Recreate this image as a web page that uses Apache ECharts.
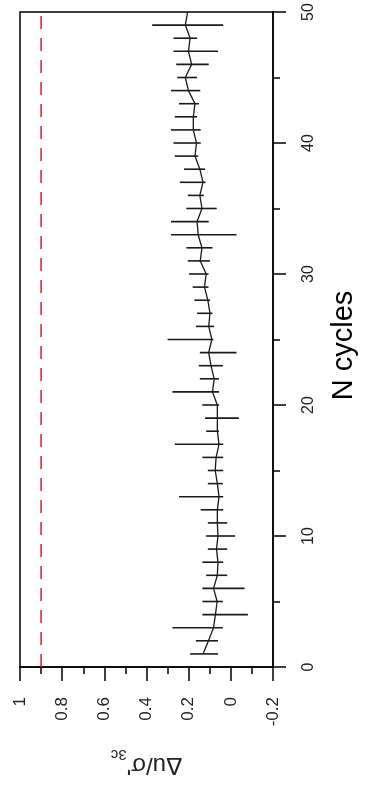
<!DOCTYPE html>
<html>
<head>
<meta charset="utf-8">
<script src="https://cdn.jsdelivr.net/npm/echarts@6/dist/echarts.min.js"></script>
<style>
html,body{margin:0;padding:0;background:#fff;overflow:hidden;width:366px;height:787px;}
#chart{position:absolute;left:0;top:0;width:366px;height:787px;}
</style>
</head>
<body>
<div id="chart"></div>
<script>
// N cycles (vertical axis in the picture)
const cycles = [1,2,3,4,5,6,7,8,9,10,11,12,13,14,15,16,17,18,19,20,21,22,23,24,25,26,27,28,29,30,31,32,33,34,35,36,37,38,39,40,41,42,43,44,45,46,47,48,49,50];
// mean value of Δu/σ'3c per cycle
const meanVals = [0.132,0.106,0.082,0.073,0.065,0.082,0.064,0.061,0.068,0.061,0.064,0.064,0.056,0.064,0.074,0.07,0.056,0.064,0.064,0.064,0.087,0.079,0.094,0.105,0.090,0.105,0.099,0.109,0.125,0.117,0.145,0.137,0.155,0.160,0.137,0.147,0.132,0.147,0.170,0.163,0.178,0.178,0.170,0.201,0.216,0.186,0.201,0.193,0.216,0.205];
// upper end of each error bar
const upperVals = [0.193,0.166,0.277,0.135,0.135,0.135,0.117,0.135,0.109,0.117,0.109,0.143,0.246,0.109,0.109,0.135,0.266,0.117,0.122,0.135,0.277,0.147,0.152,0.147,0.300,0.166,0.160,0.173,0.181,0.198,0.204,0.211,0.284,0.284,0.211,0.204,0.242,0.222,0.266,0.272,0.284,0.266,0.246,0.284,0.254,0.259,0.272,0.272,0.373,null];
// lower end of each error bar
const lowerVals = [0.061,0.061,0.038,-0.081,0.038,-0.065,0.017,0.036,0.017,-0.020,0.017,0.036,0.036,0.038,0.036,0.036,0.036,0.056,-0.038,0.056,0.056,0.056,0.038,-0.027,0.083,0.079,0.087,0.099,0.106,0.106,0.099,0.087,-0.027,0.105,0.067,0.128,0.120,0.122,0.155,0.143,0.143,0.160,0.151,0.145,0.160,0.105,0.061,0.160,0.036,null];
// reference threshold (red dashed line)
const thresholdVal = [0.9];
// axis ranges
const xRange = [-0.2, 1];
const yRange = [0, 50];

const chart = echarts.init(document.getElementById('chart'), null, {width: 366, height: 787});
const font = 'Liberation Sans, Arial, sans-serif';

const meanData = cycles.map((n, i) => [meanVals[i], n]);
const barData = [];
cycles.forEach((n, i) => {
  if (lowerVals[i] !== null && upperVals[i] !== null) barData.push([n, lowerVals[i], upperVals[i]]);
});
const thrData = [[thresholdVal[0], yRange[0]], [thresholdVal[0], yRange[1]]];

chart.setOption({
  animation: false,
  backgroundColor: '#fff',
  grid: {left: 20, right: 83, top: 12, bottom: 120, show: true, borderColor: '#000', borderWidth: 1.5, backgroundColor: 'transparent'},
  xAxis: {
    type: 'value', inverse: true, min: xRange[0], max: xRange[1], interval: 0.2,
    position: 'bottom',
    splitLine: {show: false},
    axisLine: {show: true, onZero: false, lineStyle: {color: '#000', width: 1.5}},
    axisTick: {show: true, length: 14, lineStyle: {color: '#000', width: 1.5}},
    minorTick: {show: true, splitNumber: 2, length: 7, lineStyle: {color: '#000', width: 1.5}},
    axisLabel: {rotate: 90, margin: 30, fontSize: 17, color: '#222', fontFamily: font},
    name: "{a|Δu/σ'}{b|3c}",
    nameLocation: 'middle', nameRotate: 180, nameGap: 80,
    nameTextStyle: {
      fontFamily: font, color: '#222',
      rich: {
        a: {fontSize: 24, fontFamily: font, color: '#222', verticalAlign: 'top', lineHeight: 30},
        b: {fontSize: 15, fontFamily: font, color: '#222', verticalAlign: 'bottom', lineHeight: 30}
      }
    }
  },
  yAxis: {
    type: 'value', min: yRange[0], max: yRange[1], interval: 10,
    position: 'right',
    splitLine: {show: false},
    axisLine: {show: true, onZero: false, lineStyle: {color: '#000', width: 1.5}},
    axisTick: {show: true, length: 13, lineStyle: {color: '#000', width: 1.5}},
    minorTick: {show: true, splitNumber: 2, length: 7, lineStyle: {color: '#000', width: 1.5}},
    axisLabel: {rotate: 90, margin: 28, fontSize: 16, color: '#222', fontFamily: font},
    name: 'N cycles', nameLocation: 'middle', nameRotate: 90, nameGap: 56,
    nameTextStyle: {fontSize: 29, fontFamily: font, color: '#000', padding: [0, 12, 0, 0]}
  },
  series: [
    {
      type: 'line', data: thrData, symbol: 'none', silent: true,
      lineStyle: {color: '#e8191e', width: 1.5, type: [13, 9]}
    },
    {
      type: 'custom', data: barData, encode: {x: [1, 2], y: 0},
      renderItem: function (params, api) {
        const n = api.value(0), lo = api.value(1), hi = api.value(2);
        const p1 = api.coord([lo, n]);
        const p2 = api.coord([hi, n]);
        return {type: 'line', shape: {x1: p1[0], y1: p1[1], x2: p2[0], y2: p2[1]}, style: {stroke: '#1a1a1a', lineWidth: 1.6}};
      }
    },
    {
      type: 'line', data: meanData, symbol: 'none',
      lineStyle: {color: '#1a1a1a', width: 1.3}
    }
  ]
});
</script>
</body>
</html>
